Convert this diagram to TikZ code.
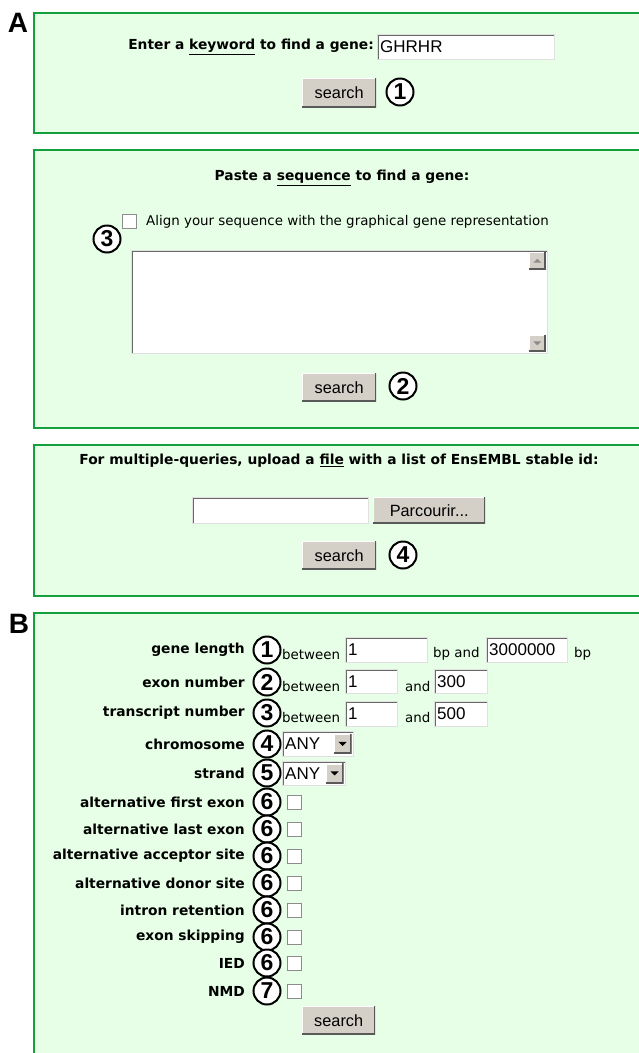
\documentclass[tikz,border=0pt]{standalone}
\usepackage{fontspec}
\setmainfont{DejaVu Sans}
\newfontfamily\formfamily{Liberation Sans}
\usetikzlibrary{calc}

\definecolor{panelfill}{RGB}{230,255,230}
\definecolor{panelline}{RGB}{20,160,60}
\definecolor{btnfill}{RGB}{212,208,200}
\definecolor{fieldline}{RGB}{105,105,105}

\newcommand{\boldlab}{\bfseries\fontsize{13.8}{14}\selectfont}
\newcommand{\plainlab}{\fontsize{13.4}{14}\selectfont}
\newcommand{\formtext}{\formfamily\fontsize{17}{17}\selectfont}
\newcommand{\btntext}{\formfamily\fontsize{16.3}{17}\selectfont}
\newcommand{\numtext}{\formfamily\bfseries\fontsize{23}{23}\selectfont}
\newcommand{\paneltag}{\formfamily\bfseries\fontsize{28}{28}\selectfont}

\tikzset{
  panel/.style={draw=panelline, fill=panelfill, line width=1.3pt},
  tagtext/.style={font=\paneltag, inner sep=0pt},
  boldtext/.style={font=\boldlab, inner sep=0pt},
  plaintext/.style={font=\plainlab, inner sep=0pt},
  valtext/.style={font=\formtext, anchor=west, inner sep=3pt},
  field/.style={rectangle, fill=white, draw=black!12, line width=0.8pt, anchor=north west, inner sep=0pt,
    path picture={\draw[fieldline, line width=2.6pt]
      (path picture bounding box.south west) -- (path picture bounding box.north west)
      -- (path picture bounding box.north east);}},
  btnbox/.style={rectangle, fill=btnfill, inner sep=0pt, font=\btntext,
    path picture={\draw[white, line width=2.4pt]
      (path picture bounding box.south west) -- (path picture bounding box.north west)
      -- (path picture bounding box.north east);
      \draw[black!65, line width=3pt]
      (path picture bounding box.south west) -- (path picture bounding box.south east)
      -- (path picture bounding box.north east);}},
  tickbox/.style={rectangle, fill=white, draw=black!45, line width=0.9pt, minimum size=14pt, inner sep=0pt},
  numball/.style={circle, draw, line width=2pt, fill=white, inner sep=0pt, minimum size=27pt, font=\numtext},
}

\begin{document}
\begin{tikzpicture}[x=1pt, y=-1pt]
\def\bx{302} % left edge of the search buttons
\def\lx{245} % right edge of the labels in B
\def\cx{267} % centre of the circled numbers in B

\useasboundingbox (0,0) rectangle (639,1053);
\clip (0,0) rectangle (639,1053);

% panels
\draw[panel] (34,13) rectangle (650,133);
\draw[panel] (34,150) rectangle (650,428);
\draw[panel] (34,445) rectangle (650,596);
\draw[panel] (34,613) rectangle (650,1070);
\node[tagtext] (tagA) at (18,23) {A};
\node[tagtext] (tagB) at (19,624) {B};

% keyword search
\node[boldtext, anchor=east] (kwtitle) at (374,47) {Enter a \underline{keyword} to find a gene:};
\node[field, minimum width=177pt, minimum height=25pt] (kwbox) at (377,34) {};
\node[valtext] (kwval) at (kwbox.west) {GHRHR};
\node[btnbox, minimum width=74pt, minimum height=29pt, anchor=north west] (srch1) at (\bx,78) {search};
\node[numball] (n1) at (400,92) {1};

% sequence search
\node[boldtext] (seqtitle) at (342,178) {Paste a \underline{sequence} to find a gene:};
\node[tickbox, anchor=north west] (aligntick) at (122,214) {};
\node[plaintext, anchor=west] (aligntext) at (146,222) {Align your sequence with the graphical gene representation};
\node[numball] (n3) at (107,239) {3};
\node[field, minimum width=416pt, minimum height=103pt] (seqarea) at (131,250) {};
\node[btnbox, minimum width=17pt, minimum height=17pt, anchor=north east] (scrollup) at (546,252) {};
\node[btnbox, minimum width=17pt, minimum height=17pt, anchor=south east] (scrolldn) at (546,352) {};
\fill[black!45] ($(scrollup.center)+(-4,2)$) -- ($(scrollup.center)+(4,2)$) -- ($(scrollup.center)+(0,-2)$) -- cycle;
\fill[black!45] ($(scrolldn.center)+(-4,-2)$) -- ($(scrolldn.center)+(4,-2)$) -- ($(scrolldn.center)+(0,2)$) -- cycle;
\node[btnbox, minimum width=74pt, minimum height=28pt, anchor=north west] (srch2) at (\bx,373) {search};
\node[numball] (n2) at (403,386) {2};

% file search
\node[boldtext] (filetitle) at (339,461) {For multiple-queries, upload a \underline{file} with a list of EnsEMBL stable id:};
\node[field, minimum width=176pt, minimum height=26pt] (filebox) at (192,497) {};
\node[btnbox, minimum width=112pt, minimum height=26pt, anchor=north west] (browse) at (373,497) {Parcourir...};
\node[btnbox, minimum width=74pt, minimum height=28pt, anchor=north west] (srch4) at (\bx,541) {search};
\node[numball] (n4) at (403,555) {4};

% B: gene length
\node[boldtext, anchor=east] (glen) at (\lx,650) {gene length};
\node[numball] (b1) at (\cx,650) {1};
\node[plaintext, anchor=west] (glenbt) at (282,654) {between};
\node[field, minimum width=82pt, minimum height=25pt] (glenlo) at (345,637) {};
\node[valtext] (glenloval) at (glenlo.west) {1};
\node[plaintext, anchor=west] (glenand) at (433,654) {bp and};
\node[field, minimum width=81pt, minimum height=25pt] (glenhi) at (486,637) {};
\node[valtext] (glenhival) at (glenhi.west) {3000000};
\node[plaintext, anchor=west] (glenbp) at (574,654) {bp};

% B: exon number
\node[boldtext, anchor=east] (exnum) at (\lx,682) {exon number};
\node[numball] (b2) at (\cx,682) {2};
\node[plaintext, anchor=west] (exnumbt) at (282,686) {between};
\node[field, minimum width=52pt, minimum height=24pt] (exnumlo) at (345,669) {};
\node[valtext] (exnumloval) at (exnumlo.west) {1};
\node[plaintext, anchor=west] (exnumand) at (405,686) {and};
\node[field, minimum width=53pt, minimum height=24pt] (exnumhi) at (434,669) {};
\node[valtext] (exnumhival) at (exnumhi.west) {300};

% B: transcript number
\node[boldtext, anchor=east] (trnum) at (\lx,713) {transcript number};
\node[numball] (b3) at (\cx,713) {3};
\node[plaintext, anchor=west] (trnumbt) at (282,717) {between};
\node[field, minimum width=52pt, minimum height=25pt] (trnumlo) at (345,701) {};
\node[valtext] (trnumloval) at (trnumlo.west) {1};
\node[plaintext, anchor=west] (trnumand) at (405,717) {and};
\node[field, minimum width=53pt, minimum height=25pt] (trnumhi) at (434,701) {};
\node[valtext] (trnumhival) at (trnumhi.west) {500};

% B: chromosome and strand
\node[boldtext, anchor=east] (chrom) at (\lx,744) {chromosome};
\node[numball] (b4) at (\cx,744) {4};
\node[field, minimum width=71pt, minimum height=25pt] (chromsel) at (282,731) {};
\node[valtext] (chromval) at (chromsel.west) {ANY};
\node[btnbox, minimum width=18pt, minimum height=20pt, anchor=east] (chromdrop) at ($(chromsel.east)+(-2,0)$) {};
\fill (chromdrop.center) ++(-4,-2) -- ++(8,0) -- ++(-4,4) -- cycle;
\node[boldtext, anchor=east] (strand) at (\lx,773) {strand};
\node[numball] (b5) at (\cx,773) {5};
\node[field, minimum width=63pt, minimum height=24pt] (strandsel) at (282,761) {};
\node[valtext] (strandval) at (strandsel.west) {ANY};
\node[btnbox, minimum width=18pt, minimum height=20pt, anchor=east] (stranddrop) at ($(strandsel.east)+(-2,0)$) {};
\fill (stranddrop.center) ++(-4,-2) -- ++(8,0) -- ++(-4,4) -- cycle;

% B: splicing events
\node[boldtext, anchor=east] (afe) at (\lx,802) {alternative first exon};
\node[numball] (b6a) at (\cx,802) {6};
\node[tickbox] (afetick) at (294,802) {};
\node[boldtext, anchor=east] (ale) at (\lx,829) {alternative last exon};
\node[numball] (b6b) at (\cx,829) {6};
\node[tickbox] (aletick) at (294,829) {};
\node[boldtext, anchor=east] (aas) at (\lx,856) {alternative acceptor site};
\node[numball] (b6c) at (\cx,856) {6};
\node[tickbox] (aastick) at (294,856) {};
\node[boldtext, anchor=east] (ads) at (\lx,883) {alternative donor site};
\node[numball] (b6d) at (\cx,883) {6};
\node[tickbox] (adstick) at (294,883) {};
\node[boldtext, anchor=east] (iret) at (\lx,910) {intron retention};
\node[numball] (b6e) at (\cx,910) {6};
\node[tickbox] (irettick) at (294,910) {};
\node[boldtext, anchor=east] (eskip) at (\lx,937) {exon skipping};
\node[numball] (b6f) at (\cx,937) {6};
\node[tickbox] (eskiptick) at (294,937) {};
\node[boldtext, anchor=east] (ied) at (\lx,963) {IED};
\node[numball] (b6g) at (\cx,963) {6};
\node[tickbox] (iedtick) at (294,963) {};
\node[boldtext, anchor=east] (nmd) at (\lx,991) {NMD};
\node[numball] (b7) at (\cx,991) {7};
\node[tickbox] (nmdtick) at (294,991) {};
\node[btnbox, minimum width=73pt, minimum height=28pt, anchor=north west] (srchB) at (\bx,1006) {search};

\end{tikzpicture}
\end{document}
